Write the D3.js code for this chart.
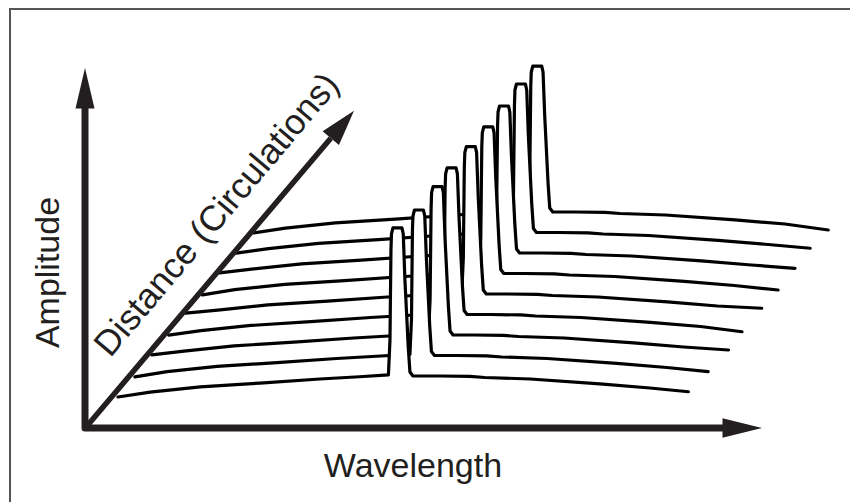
<!DOCTYPE html>
<html>
<head>
<meta charset="utf-8">
<script src="https://d3js.org/d3.v7.min.js"></script>
<style>
body { margin: 0; background: #fff; }
svg { display: block; }
.frame { fill: none; stroke: #555; stroke-width: 2px; }
.under { fill: #fff; stroke: none; }
.trace { fill: none; stroke: #000; stroke-width: 3.2px; stroke-linejoin: round; stroke-linecap: round; }
.axis { fill: none; stroke: #231f20; stroke-width: 7px; stroke-linejoin: round; }
.diag { fill: none; stroke: #231f20; stroke-width: 5.5px; }
.head { fill: #231f20; }
.label { font-family: "Liberation Sans", Arial, sans-serif; font-size: 34px; fill: #231f20; }
</style>
</head>
<body>
<svg></svg>
<script>

// one spectrum per circulation, front (first) to back (last)
var circulations = [1, 2, 3, 4, 5, 6, 7, 8, 9];
var startLevel = [2.0, 1.7, 2.7, 2.3, 3.3, 1.7, 2.7, 2.3, 2.0];
var peakCentre = [48.6, 49.4, 49.7, 49.2, 49.6, 49.7, 49.5, 49.5, 49.4];
var peakLevel  = [114.7, 113.0, 114.9, 113.7, 114.2, 113.7, 114.0, 115.0, 113.3];
var endLambda  = [99.2, 99.7, 100.3, 99.7, 100.2, 100.1, 100.1, 99.8, 100.0];
var endLevel   = [5.5, 5.2, 6.0, 4.5, 6.5, 5.0, 5.8, 5.5, 4.0];

// noise floor
var floorWl  = [5.6, 14.3, 24.7, 35.1, 42.0];
var floorAmp = [5.3, 8.7, 11.3, 14.0, 15.5];
var tailWl   = [56.0, 61.2, 63.8, 71.7, 83.8, 92.5];
var tailAmp  = [16.0, 15.7, 15.0, 14.0, 10.7, 8.0];

// peak flanks, wavelength relative to the peak centre
var riseOffset = [-1.57, -1.30, -1.13];
var riseAmp    = [16.7, 40.0, 100.0];
var topOffset  = [-1.04, -0.78, 0.78, 1.01];
var topDrop    = [4, 0, 0, 4];
var fallOffset = [1.30, 1.88, 2.17, 2.70];
var fallAmp    = [80.0, 35.3, 18.7, 16.0];

var width = 850, height = 502;
var svg = d3.select("svg").attr("width", width).attr("height", height);

svg.append("rect").attr("class", "frame")
    .attr("x", 10).attr("y", 9).attr("width", 900).attr("height", 600);

var x = d3.scaleLinear().domain([0, 100]).range([118, 693]);
var y = d3.scaleLinear().domain([0, 120]).range([400, 220]);
// distance axis: shift of each spectrum
var zx = d3.scaleLinear().domain([1, 9]).range([0, 135.2]);
var zy = d3.scaleLinear().domain([1, 9]).range([0, -164]);

function tracePoints(i) {
    var c = peakCentre[i];
    var pts = [[0, startLevel[i]]];
    floorWl.forEach(function(l, k) { pts.push([l, floorAmp[k]]); });
    riseOffset.forEach(function(d, k) { pts.push([c + d, riseAmp[k]]); });
    topOffset.forEach(function(d, k) { pts.push([c + d, peakLevel[i] - topDrop[k]]); });
    fallOffset.forEach(function(d, k) { pts.push([c + d, fallAmp[k]]); });
    tailWl.forEach(function(l, k) { pts.push([l, tailAmp[k]]); });
    pts.push([endLambda[i], endLevel[i]]);
    return pts;
}

// draw from the back so each spectrum hides what is behind it
var order = d3.range(circulations.length).reverse();
order.forEach(function(i) {
    var d = circulations[i];
    var pts = tracePoints(i);
    var area = d3.area()
        .x(function(p) { return x(p[0]) + zx(d); })
        .y0(428)
        .y1(function(p) { return y(p[1]) + zy(d); });
    var line = d3.line()
        .x(function(p) { return x(p[0]) + zx(d); })
        .y(function(p) { return y(p[1]) + zy(d); });
    svg.append("path").attr("class", "under").attr("d", area(pts));
    svg.append("path").attr("class", "trace").attr("d", line(pts));
});

// Axes
svg.append("path").attr("class", "axis")
    .attr("d", "M85,108L85,428L723,428");
svg.append("polygon").attr("class", "head")
    .attr("points", "85,68 75.5,108.5 94.5,108.5");
svg.append("polygon").attr("class", "head")
    .attr("points", "762,428 722.5,418.3 722.5,437.7");

var ang = Math.atan2(269.3, 227.3);
var ux = Math.cos(ang), uy = -Math.sin(ang);
var tip = [354, 110.7];
var base = [tip[0] - 36 * ux, tip[1] - 36 * uy];
svg.append("line").attr("class", "diag")
    .attr("x1", 87).attr("y1", 426)
    .attr("x2", base[0]).attr("y2", base[1]);
svg.append("polygon").attr("class", "head")
    .attr("points", [tip,
        [base[0] + 10.7 * Math.sin(ang), base[1] + 10.7 * Math.cos(ang)],
        [base[0] - 10.7 * Math.sin(ang), base[1] - 10.7 * Math.cos(ang)]].join(" "));

// Labels
svg.append("text").attr("class", "label")
    .attr("transform", "translate(59,272.5) rotate(-90)")
    .attr("text-anchor", "middle")
    .text("Amplitude");

svg.append("text").attr("class", "label")
    .attr("x", 413).attr("y", 477)
    .attr("text-anchor", "middle")
    .text("Wavelength");

var deg = ang * 180 / Math.PI;
svg.append("text").attr("class", "label")
    .attr("transform", "translate(225.5,222) rotate(" + (-deg) + ")")
    .attr("text-anchor", "middle")
    .style("font-size", "35.5px")
    .text("Distance (Circulations)");

</script>
</body>
</html>
